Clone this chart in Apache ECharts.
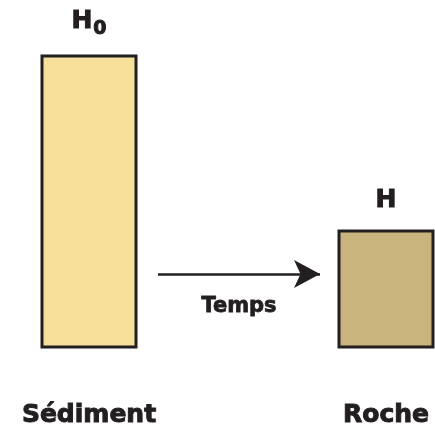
<!DOCTYPE html>
<html>
<head>
<meta charset="utf-8">
<script src="https://cdn.jsdelivr.net/npm/echarts@6/dist/echarts.min.js"></script>
<style>
  html, body { margin: 0; padding: 0; background: #fff; }
  #main { width: 435px; height: 429px; }
</style>
</head>
<body>
<div id="main"></div>
<script>
var chartDom = document.getElementById('main');
var myChart = echarts.init(chartDom);
var option;

// data
const categories = ['Sédiment', 'Roche'];
const heights = [98, 39.7];
const topLabels = ['{h|H}{s|0}', '{h|H}'];
const barColors = ['#f7e19a', '#c9b47e'];
const arrowText = 'Temps';

const font = 'DejaVu Sans';
const ink = '#231f20';

option = {
  animation: false,
  grid: {
    left: 89,
    width: 297,
    top: 48.5,
    height: 300
  },
  xAxis: {
    type: 'category',
    boundaryGap: false,
    data: categories,
    axisLine: { show: false },
    axisTick: { show: false },
    axisLabel: {
      margin: 54,
      fontFamily: font,
      fontWeight: 'bold',
      fontSize: 25,
      color: ink,
      textBorderColor: ink,
      textBorderWidth: 1
    }
  },
  yAxis: {
    type: 'value',
    min: 0,
    max: 100,
    show: false
  },
  series: [
    {
      type: 'bar',
      clip: false,
      barWidth: 97,
      data: heights.map(function (v, i) {
        return {
          value: v,
          itemStyle: { color: barColors[i] },
          label: { distance: i === 0 ? 16 : 11 }
        };
      }),
      itemStyle: {
        borderColor: ink,
        borderWidth: 3
      },
      label: {
        show: true,
        position: 'top',
        formatter: function (p) { return topLabels[p.dataIndex]; },
        rich: {
          h: {
            fontFamily: font,
            fontWeight: 'bold',
            fontSize: 25,
            lineHeight: 25,
            color: ink,
            textBorderColor: ink,
            textBorderWidth: 1,
            verticalAlign: 'bottom',
            padding: [0, 0, 5, 0]
          },
          s: {
            fontFamily: font,
            fontWeight: 'bold',
            fontSize: 19,
            lineHeight: 19,
            color: ink,
            textBorderColor: ink,
            textBorderWidth: 1,
            verticalAlign: 'bottom',
            padding: [0, 0, 0, 1]
          }
        }
      },
      markLine: {
        silent: true,
        symbol: ['none', 'arrow'],
        symbolSize: [21, 26],
        lineStyle: { color: ink, width: 2.5, type: 'solid' },
        label: { show: false },
        data: [[{ x: 158, y: 274 }, { x: 320, y: 274 }]]
      }
    }
  ],
  graphic: [
    {
      type: 'text',
      x: 239,
      y: 307,
      style: {
        text: arrowText,
        fontFamily: font,
        fontWeight: 'bold',
        fontSize: 21,
        fill: ink,
        stroke: ink,
        lineWidth: 0.8,
        align: 'center',
        verticalAlign: 'middle'
      }
    }
  ]
};

option && myChart.setOption(option);
</script>
</body>
</html>
